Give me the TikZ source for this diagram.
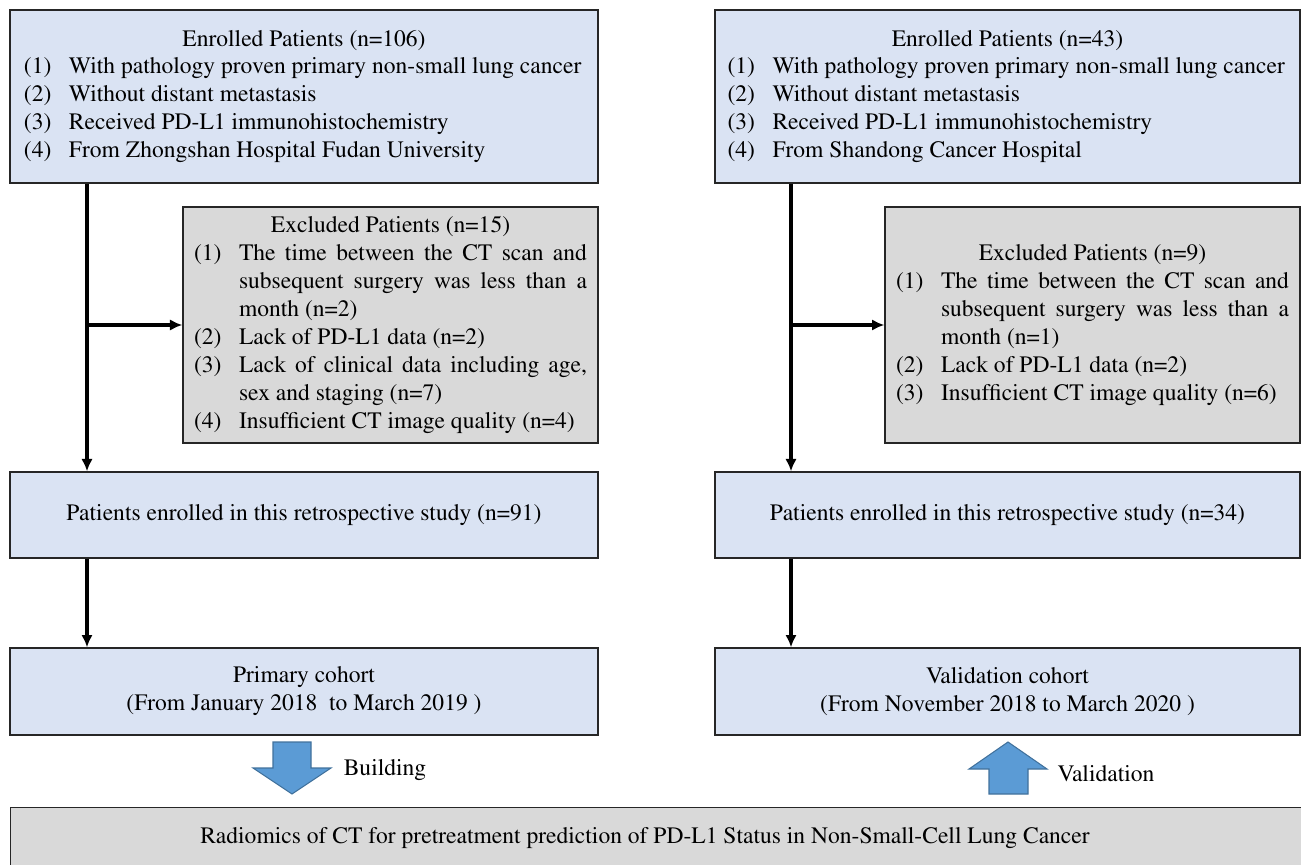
\documentclass[tikz,border=0pt]{standalone}
\usepackage[T1]{fontenc}
\usepackage{mathptmx}
\usetikzlibrary{positioning,arrows.meta}
\definecolor{boxblue}{HTML}{DAE3F3}
\definecolor{boxgray}{HTML}{D9D9D9}
\definecolor{arrblue}{HTML}{5B9BD5}
\definecolor{arredge}{HTML}{41719C}
\newcommand{\itm}[2]{\par\hangindent=0.9cm\hangafter=1\noindent\makebox[0.9cm][l]{#1}#2}

\begin{document}
\begin{tikzpicture}[every node/.style={font=\fontsize{13.4}{15.9}\selectfont}, bbox/.style={draw=black!85, line width=0.8pt, fill=boxblue, inner sep=0pt}, gbox/.style={draw=black!85, line width=0.8pt, fill=boxgray, inner sep=0pt}, con/.style={line width=2pt, -{Latex[length=7pt,width=6.5pt]}}, blk/.style={draw=arredge, fill=arrblue, line width=0.6pt}]
	\useasboundingbox (0,0) rectangle (26.02,-17.3);
	\node[bbox, minimum width=11.76cm, minimum height=3.46cm, text width=11.2cm, align=justify] (enrolA) at (6.08,-1.93) {\centerline{Enrolled Patients (n=106)}\itm{(1)}{With pathology proven primary non-small lung cancer}\itm{(2)}{Without distant metastasis}\itm{(3)}{Received PD-L1 immunohistochemistry}\itm{(4)}{From Zhongshan Hospital Fudan University}};
	\node[bbox, minimum width=11.7cm, minimum height=3.46cm, text width=11.2cm, align=justify] (enrolB) at (20.15,-1.93) {\centerline{Enrolled Patients (n=43)}\itm{(1)}{With pathology proven primary non-small lung cancer}\itm{(2)}{Without distant metastasis}\itm{(3)}{Received PD-L1 immunohistochemistry}\itm{(4)}{From Shandong Cancer Hospital}};
	\node[gbox, minimum width=8.3cm, minimum height=4.72cm, text width=7.86cm, align=justify] (exclA) at (7.81,-6.5) {\centerline{Excluded Patients (n=15)}\itm{(1)}{The time between the CT scan and subsequent surgery was less than a month (n=2)}\itm{(2)}{Lack of PD-L1 data (n=2)}\itm{(3)}{Lack of clinical data including age, sex and staging (n=7)}\itm{(4)}{Insufficient CT image quality (n=4)}};
	\node[gbox, minimum width=8.3cm, minimum height=4.72cm, text width=7.86cm, align=justify] (exclB) at (21.85,-6.5) {\centerline{Excluded Patients (n=9)}\itm{(1)}{The time between the CT scan and subsequent surgery was less than a month (n=1)}\itm{(2)}{Lack of PD-L1 data (n=2)}\itm{(3)}{Insufficient CT image quality (n=6)}};
	\node[bbox, minimum width=11.76cm, minimum height=1.72cm] (studyA) at (6.08,-10.3) {Patients enrolled in this retrospective study (n=91)};
	\node[bbox, minimum width=11.7cm, minimum height=1.72cm] (studyB) at (20.15,-10.3) {Patients enrolled in this retrospective study (n=34)};
	\node[bbox, minimum width=11.76cm, minimum height=1.74cm, align=center] (cohortA) at (6.08,-13.83) {Primary cohort\\(From January 2018\ \ to March 2019 )};
	\node[bbox, minimum width=11.7cm, minimum height=1.74cm, align=center] (cohortB) at (20.15,-13.83) {Validation cohort\\(From November 2018 to March 2020 )};
	\node[gbox, minimum width=25.84cm, minimum height=1.3cm, anchor=north west] (model) at (0.2,-16.14) {};
	\node (modeltxt) at (12.9,-16.76) {Radiomics of CT for pretreatment prediction of PD-L1 Status in Non-Small-Cell Lung Cancer};
	\coordinate (trunkA) at (1.74,0);
	\coordinate (trunkB) at (15.82,0);
	\draw[con] (enrolA.south -| trunkA) -- (studyA.north -| trunkA);
	\draw[con] (trunkA |- exclA.west) -- (exclA.west);
	\draw[con] (studyA.south -| trunkA) -- (cohortA.north -| trunkA);
	\draw[con] (enrolB.south -| trunkB) -- (studyB.north -| trunkB);
	\draw[con] (trunkB |- exclB.west) -- (exclB.west);
	\draw[con] (studyB.south -| trunkB) -- (cohortB.north -| trunkB);
	\draw[blk] (5.46,-14.84) -- (6.22,-14.84) -- (6.22,-15.36) -- (6.62,-15.36) -- (5.84,-15.88) -- (5.06,-15.36) -- (5.46,-15.36) -- cycle;
	\draw[blk] (19.78,-15.88) -- (20.56,-15.88) -- (20.56,-15.38) -- (20.94,-15.38) -- (20.16,-14.84) -- (19.38,-15.38) -- (19.78,-15.38) -- cycle;
	\node (build) at (7.7,-15.4) {Building};
	\node (valid) at (22.12,-15.48) {Validation};
\end{tikzpicture}
\end{document}
